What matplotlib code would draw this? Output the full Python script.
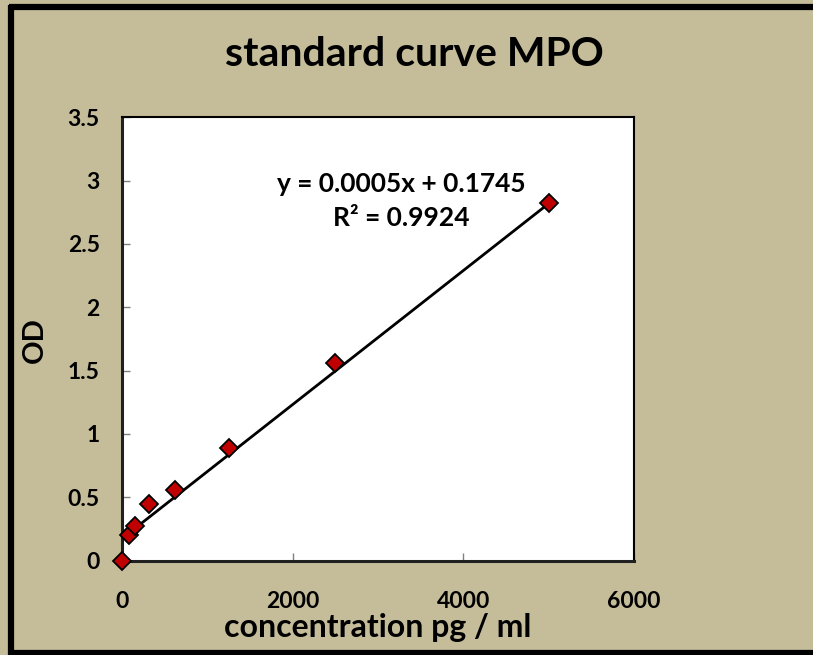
import matplotlib.pyplot as plt
from matplotlib.lines import Line2D
from matplotlib.patches import Rectangle

# MPO standard dilutions and measured optical density
conc = [0, 78.125, 156.25, 312.5, 625, 1250, 2500, 5000]
od = [0.0, 0.205, 0.27, 0.45, 0.56, 0.888, 1.558, 2.82]
x_ticks = [0, 2000, 4000, 6000]
y_ticks = [0, 0.5, 1, 1.5, 2, 2.5, 3, 3.5]

# linear trendline reported with the standards
slope = 0.000529
intercept = 0.1745
r2 = 0.9924

plt.rcParams['font.family'] = ['Lato', 'DejaVu Sans']
plt.rcParams['font.weight'] = 'bold'

bg = '#C5BD9A'
fig = plt.figure(figsize=(8.13, 6.55), dpi=100, facecolor=bg,
                 edgecolor=bg, linewidth=0)
ax = fig.add_axes([0.150, 0.144, 0.630, 0.677])
ax.set_facecolor('white')

xl = [min(conc), max(conc)]
ax.plot(xl, [slope * v + intercept for v in xl], color='black', lw=2,
        zorder=2)

ax.plot(conc, od, linestyle='none', marker='D', markersize=9,
        markerfacecolor='#C00000', markeredgecolor='black',
        markeredgewidth=1.3, zorder=3, clip_on=False)

ax.set_xlim(0, 6000)
ax.set_ylim(0, 3.5)
ax.set_xticks(x_ticks)
ax.set_yticks(y_ticks)
ax.set_yticklabels([f'{v:g}' for v in y_ticks])
ax.tick_params(direction='in', length=6, width=1, color='#808080',
               labelsize=16.5)
ax.tick_params(axis='y', pad=16)
ax.tick_params(axis='x', pad=22)
for lbl in ax.get_xticklabels() + ax.get_yticklabels():
    lbl.set_fontweight('bold')
for side in ['left', 'bottom']:
    ax.spines[side].set_linewidth(2.2)
    ax.spines[side].set_color('#202020')
for side in ['top', 'right']:
    ax.spines[side].set_linewidth(1.5)
    ax.spines[side].set_color('black')

fig.text(0.465, 1 - 628 / 655, 'concentration pg / ml', ha='center',
         va='center', fontsize=23, fontweight='bold')
fig.text(35 / 813, 1 - 340 / 655, 'OD', ha='center', va='center',
         rotation=90, fontsize=21, fontweight='bold')

fig.text(0.510, 1 - 55 / 655, 'standard curve MPO', ha='center',
         va='center', fontsize=29.5, fontweight='bold')

eq = f'y = {slope:.4f}x + {intercept:.4f}\nR² = {r2:.4f}'
ax.text(0.546, 0.810, eq, transform=ax.transAxes, ha='center',
        va='center', fontsize=19, fontweight='bold', linespacing=1.5)

# plain strip along the right edge, frame runs past it
fig.patches.append(Rectangle((0.97, 0), 0.05, 1, transform=fig.transFigure,
                             facecolor=bg, edgecolor='none', zorder=5))

# dark frame around the chart: top, left and bottom edges
frame = dict(color='black', linewidth=4.5, transform=fig.transFigure,
             solid_capstyle='butt', zorder=6)
fig.lines.append(Line2D([0.011, 1.0], [1 - 7 / 655, 1 - 7 / 655], **frame))
fig.lines.append(Line2D([0.013, 0.013], [1 - 5 / 655, 0], **frame))
fig.lines.append(Line2D([0.011, 1.0], [2 / 655, 2 / 655], **frame))

fig.savefig('out.png', dpi=100, facecolor=bg)
